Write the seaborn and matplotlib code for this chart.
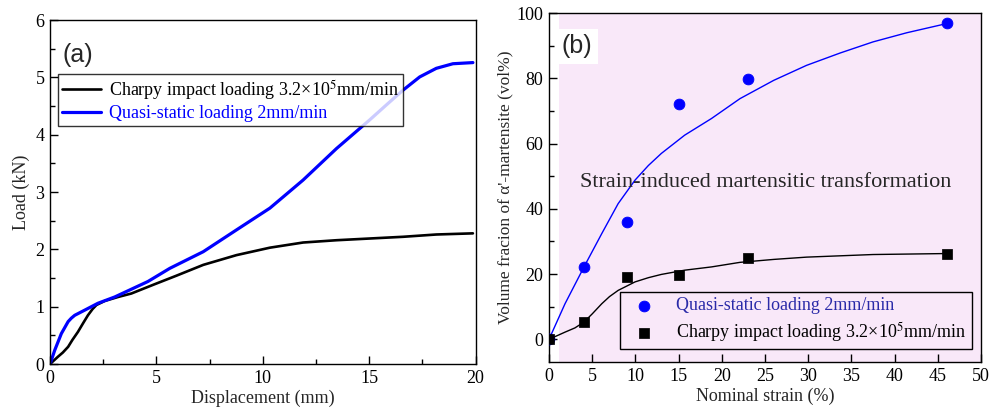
import matplotlib
matplotlib.use("Agg")
import matplotlib.pyplot as plt
import seaborn as sns
from matplotlib.ticker import MultipleLocator

# (a) load-displacement curves
disp_charpy = [0, 0.38, 0.6, 0.85, 1.05, 1.31, 1.55, 1.78, 2.0, 2.18, 2.57, 3.2, 3.82, 4.9,
               5.93, 7.2, 8.76, 10.33, 11.89, 13.46, 15.02, 16.59, 18.15, 19.87]
load_charpy = [0, 0.13, 0.2, 0.30, 0.42, 0.56, 0.71, 0.85, 0.96, 1.03, 1.10, 1.17, 1.23, 1.39,
               1.54, 1.73, 1.90, 2.03, 2.12, 2.16, 2.19, 2.22, 2.26, 2.28]

disp_quasi = [0, 0.22, 0.53, 0.85, 1.0, 1.16, 1.63, 2.25, 3.04, 4.6, 5.63, 7.2, 8.76, 10.33,
              11.89, 13.46, 15.02, 15.8, 16.59, 17.37, 18.15, 18.93, 19.87]
load_quasi = [0, 0.24, 0.53, 0.74, 0.8, 0.85, 0.94, 1.06, 1.17, 1.44, 1.67, 1.96, 2.34, 2.72,
              3.21, 3.76, 4.26, 4.52, 4.78, 5.01, 5.16, 5.24, 5.26]

# (b) martensite fraction
strain_pts = [0, 4, 9, 15, 23, 46]
quasi_pts = [0, 22.3, 36.0, 72.3, 79.8, 97.0]
charpy_pts = [0, 5.2, 19.0, 19.6, 24.8, 26.3]

strain_fit = [0, 1.85, 4.05, 6.1, 8.0, 9.95, 11.5, 13.0, 15.7, 18.8, 22.1, 26.0, 29.8, 33.7,
              37.5, 41.4, 46.0]
quasi_fit = [0, 10.9, 22.2, 32.4, 41.6, 48.8, 53.3, 57.0, 62.6, 67.7, 73.8, 79.4, 84.0, 87.8,
             91.2, 94.0, 96.8]
charpy_strain_fit = [0, 1.85, 3.0, 4.05, 5.0, 6.1, 7.0, 8.0, 9.95, 11.5, 13.0, 15.7, 18.8,
                     22.1, 26.0, 29.8, 37.5, 46.0]
charpy_fit = [0, 2.2, 3.5, 5.3, 7.8, 10.9, 13.1, 15.0, 17.6, 18.9, 19.9, 21.2, 22.2, 23.6,
              24.5, 25.2, 26.0, 26.3]

sns.set_theme(style="ticks")
plt.rcParams["font.family"] = ["Liberation Serif", "DejaVu Serif"]
plt.rcParams["mathtext.fontset"] = "stix"
plt.rcParams["axes.axisbelow"] = False
plt.rcParams["lines.solid_capstyle"] = "round"
plt.rcParams["lines.solid_joinstyle"] = "round"
plt.rcParams["xtick.direction"] = "in"
plt.rcParams["ytick.direction"] = "in"
plt.rcParams["xtick.color"] = "black"
plt.rcParams["ytick.color"] = "black"

BLUE = "#0000ff"
FS = 13

fig = plt.figure(figsize=(9.91, 4.12), dpi=100)
ax1 = fig.add_axes([0.0505, 0.1165, 0.4295, 0.8345])
ax2 = fig.add_axes([0.554, 0.121, 0.436, 0.847])

# ---- panel (a)
sns.lineplot(x=disp_charpy, y=load_charpy, ax=ax1, color="black", lw=1.9, sort=False,
             estimator=None, label="Charpy impact loading 3.2×10$^5$mm/min")
sns.lineplot(x=disp_quasi, y=load_quasi, ax=ax1, color=BLUE, lw=2.3, sort=False,
             estimator=None, label="Quasi-static loading 2mm/min")
ax1.set_xlim(0, 20)
ax1.set_ylim(0, 6)
ax1.xaxis.set_major_locator(MultipleLocator(5))
ax1.xaxis.set_minor_locator(MultipleLocator(2.5))
ax1.yaxis.set_major_locator(MultipleLocator(1))
ax1.yaxis.set_minor_locator(MultipleLocator(0.5))
ax1.set_xlabel("Displacement (mm)", fontsize=FS, labelpad=2)
ax1.set_ylabel("Load (kN)", fontsize=FS, labelpad=4)
ax1.text(0.03, 0.935, "(a)", transform=ax1.transAxes, fontsize=18,
         family="Liberation Sans", va="top", ha="left")
leg1 = ax1.legend(loc="upper left", bbox_to_anchor=(0.019, 0.843), borderaxespad=0,
                  fontsize=FS, frameon=True, fancybox=False, edgecolor="black",
                  handlelength=2.2, handletextpad=0.4, borderpad=0.2, labelspacing=0.2)
leg1.get_frame().set_linewidth(1.0)
for txt, c in zip(leg1.get_texts(), ["black", BLUE]):
    txt.set_color(c)

# ---- panel (b)
ax2.axvspan(1.2, 50, color="#f9e8f9", zorder=0, lw=0)
sns.lineplot(x=strain_fit, y=quasi_fit, ax=ax2, color=BLUE, lw=1.0, sort=False,
             estimator=None, legend=False, zorder=2)
sns.lineplot(x=charpy_strain_fit, y=charpy_fit, ax=ax2, color="black", lw=1.0, sort=False,
             estimator=None, legend=False, zorder=2)
sns.scatterplot(x=strain_pts, y=quasi_pts, ax=ax2, color=BLUE, marker="o", s=60,
                edgecolor=BLUE, zorder=3, label="Quasi-static loading 2mm/min")
sns.scatterplot(x=strain_pts, y=charpy_pts, ax=ax2, color="black", marker="s", s=42,
                edgecolor="black", zorder=3, label="Charpy impact loading 3.2×10$^5$mm/min")
ax2.set_xlim(0, 50)
ax2.set_ylim(-7, 100)
ax2.xaxis.set_major_locator(MultipleLocator(5))
ax2.yaxis.set_major_locator(MultipleLocator(20))
ax2.yaxis.set_minor_locator(MultipleLocator(10))
ax2.set_xlabel("Nominal strain (%)", fontsize=FS, labelpad=2)
ax2.set_ylabel("Volume fracion of α'-martensite (vol%)", fontsize=12.5, labelpad=2)
ax2.text(0.03, 0.94, "(b)", transform=ax2.transAxes, fontsize=18,
         family="Liberation Sans", va="top", ha="left",
         bbox=dict(facecolor="white", edgecolor="none", pad=4))
ax2.text(3.6, 48.2, "Strain-induced martensitic transformation", fontsize=16,
         va="center", ha="left", zorder=4)
leg2 = ax2.legend(loc="lower right", bbox_to_anchor=(0.979, 0.037), borderaxespad=0,
                  fontsize=FS, frameon=True, fancybox=False, edgecolor="black",
                  framealpha=1, facecolor="#f9e8f9", handletextpad=0.8, borderpad=0.3,
                  labelspacing=0.3)
leg2.get_frame().set_linewidth(1.0)
for txt, c in zip(leg2.get_texts(), ["#2a2aa8", "black"]):
    txt.set_color(c)

for ax in (ax1, ax2):
    for sp in ax.spines.values():
        sp.set_visible(True)
        sp.set_linewidth(1.0)
        sp.set_color("black")
    ax.tick_params(which="both", direction="in", colors="black", bottom=True, left=True,
                   top=False, right=False, labelsize=FS, pad=4)
    ax.tick_params(which="major", length=6, width=1.0)
    ax.tick_params(which="minor", length=3.5, width=1.0)

fig.savefig("out.png", dpi=100)
